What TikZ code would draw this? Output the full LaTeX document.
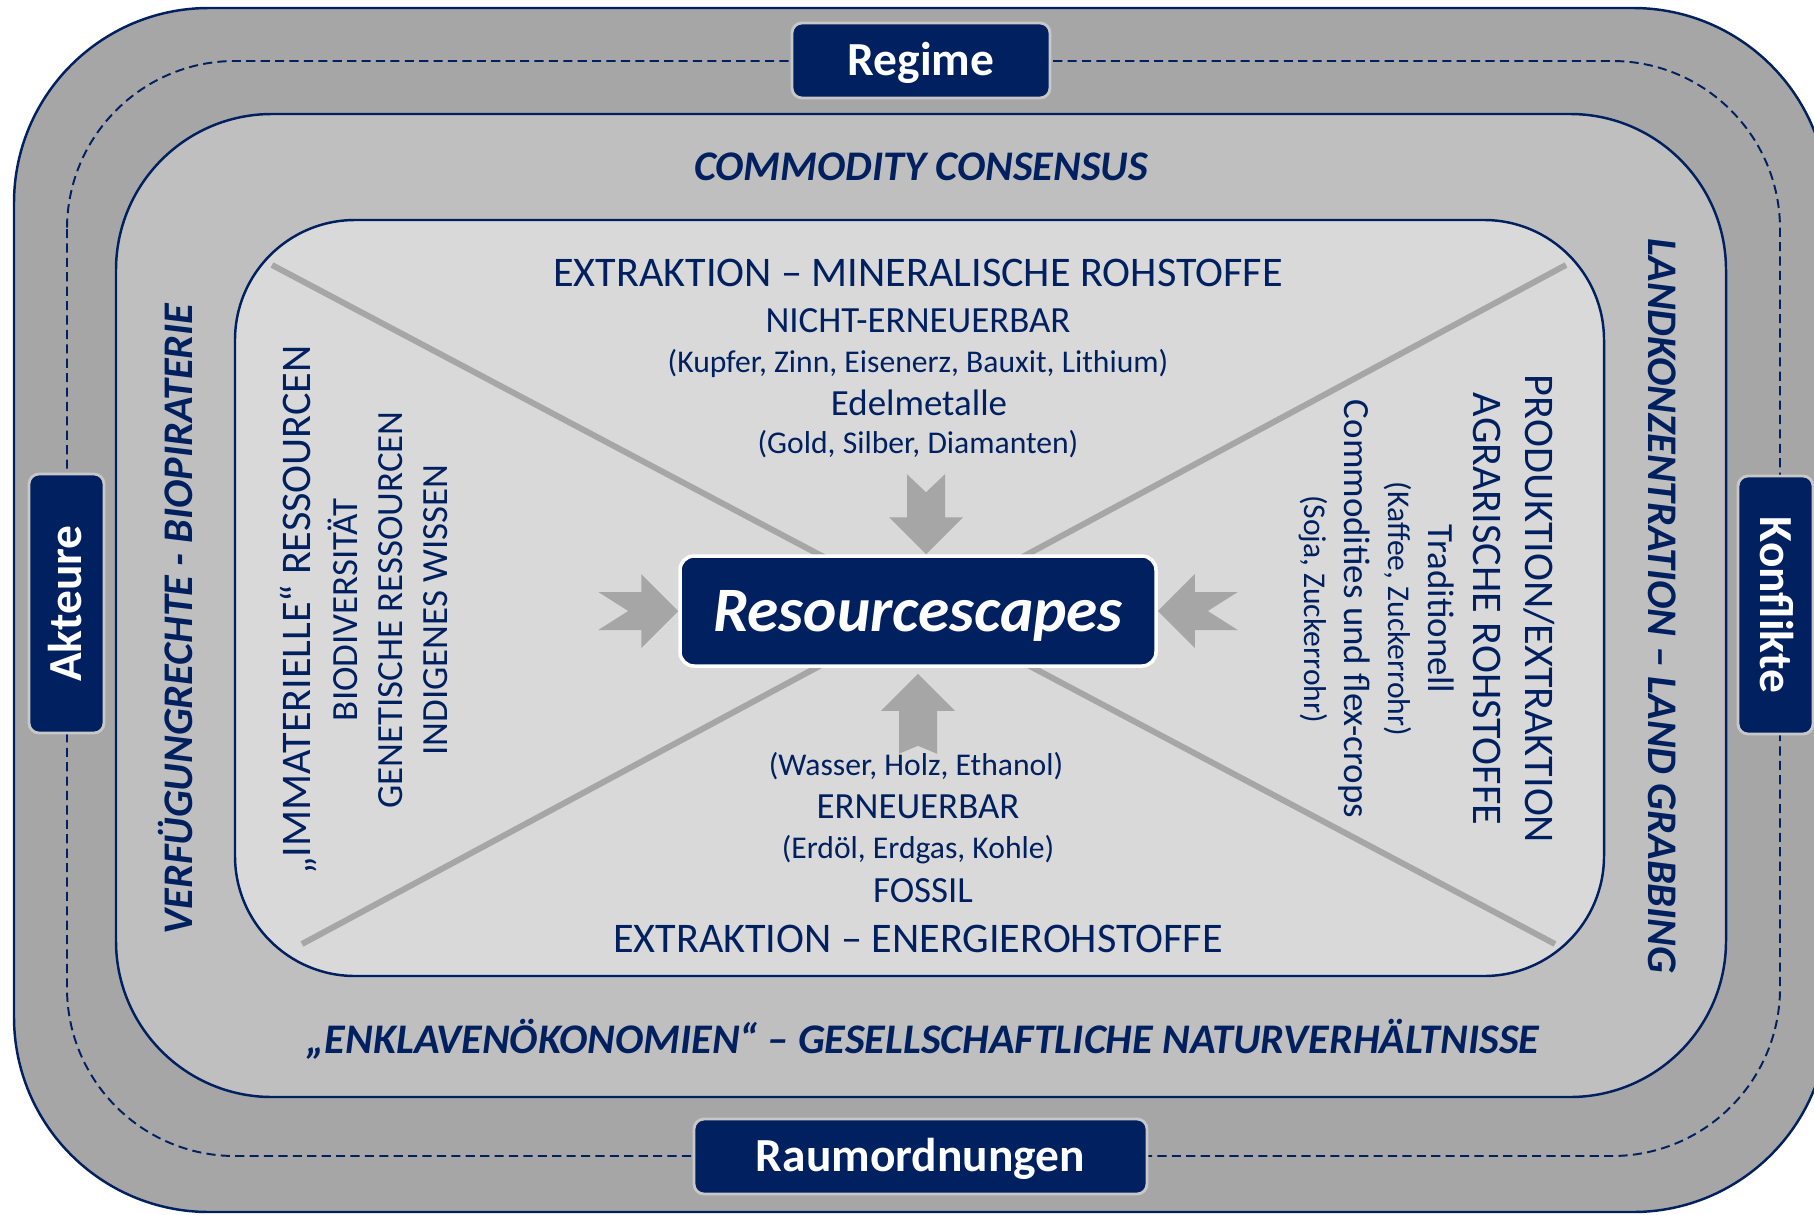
\documentclass[tikz,border=0pt]{standalone}
\usepackage{fontspec}
\setmainfont{Carlito}
\usepackage{xcolor}
\usetikzlibrary{calc,positioning}

\definecolor{rsnavy}{RGB}{0,32,96}
\definecolor{rsouter}{RGB}{166,166,166}
\definecolor{rsmiddle}{RGB}{191,191,191}
\definecolor{rsinner}{RGB}{217,217,217}
\definecolor{rsrim}{RGB}{200,200,200}

% notched block arrow: tip at #1, turned by #2, tail notch depth #3
\newcommand{\rsarrow}[3]{%
  \fill[rsouter, shift={#1}, rotate=#2]
    (0,0) -- (-37,37) -- (-37,19) -- (-80,19) -- (-80+#3,0) -- (-80,-19) -- (-37,-19) -- (-37,-37) -- cycle;}

\begin{document}
\begin{tikzpicture}[
    x=0.1mm, y=-0.1mm,
    frame/.style={draw=rsnavy, line width=0.7pt},
    crossline/.style={draw=rsouter, line width=1.7pt},
    tagbox/.style={rectangle, rounded corners=1mm, fill=rsnavy, draw=rsrim, line width=0.8pt,
        text=white, font=\fontsize{13.5}{16}\selectfont\bfseries, minimum height=7.5mm,
        text height=8.7pt, text depth=0pt, inner sep=0},
    corebox/.style={rectangle, rounded corners=1.4mm, fill=rsnavy, draw=white, line width=1pt,
        text=white, font=\fontsize{18}{21}\selectfont\bfseries\itshape,
        minimum width=47.6mm, minimum height=11mm, text height=11.6pt, text depth=0pt, inner sep=0},
    bandtxt/.style={text=rsnavy, font=\fontsize{12}{14}\selectfont\bfseries\itshape, anchor=base, inner sep=0},
    headtxt/.style={text=rsnavy, font=\fontsize{12}{14}\selectfont, anchor=base, inner sep=0},
    subtxt/.style={text=rsnavy, font=\fontsize{10.5}{12}\selectfont, anchor=base, inner sep=0},
    notetxt/.style={text=rsnavy, font=\fontsize{9}{11}\selectfont, anchor=base, inner sep=0}]

\clip (0,0) rectangle (1814,1214);
\fill[white] (0,0) rectangle (1814,1214);

% nested frames
\path[frame, fill=rsouter, rounded corners=19.5mm] (14,8) rectangle (1828,1212);
\path[draw=rsnavy, line width=0.55pt, dash pattern=on 2.6pt off 1.5pt, rounded corners=16.8mm] (67,61) rectangle (1780,1156);
\path[frame, fill=rsmiddle, rounded corners=15.6mm] (116,114) rectangle (1726,1097);
\path[frame, fill=rsinner, rounded corners=12mm] (235,220) rectangle (1604,976);

\coordinate (tl) at (272,265);
\coordinate (tr) at (1566,265);
\coordinate (bl) at (302,944);
\coordinate (br) at (1555,944);
\path[crossline] (tl) -- (br) (tr) -- (bl);

\node[corebox] (core) at (918,611) {Resourcescapes};
\rsarrow{(core.west)}{0}{30}
\rsarrow{(core.east)}{180}{30}
\rsarrow{([xshift=0.8mm]core.north)}{-90}{18}
\rsarrow{([yshift=-0.6mm]core.south)}{90}{8}

\node[tagbox, minimum width=25.8mm] (regime) at (921,60.5) {Regime};
\node[tagbox, minimum width=45.3mm] (raum) at (920.5,1156.5) {Raumordnungen};
\node[tagbox, minimum width=25.9mm, rotate=90] (akteure) at (66.5,603.5) {Akteure};
\node[tagbox, minimum width=25.8mm, rotate=-90] (konflikte) at (1775.5,605) {Konflikte};

\node[bandtxt] (consensus) at (921,180) {COMMODITY CONSENSUS};
\node[bandtxt] (enklave) at (923,1053) {„ENKLAVENÖKONOMIEN“ – GESELLSCHAFTLICHE NATURVERHÄLTNISSE};
\node[bandtxt, rotate=90] (rechte) at (192,619) {VERFÜGUNGRECHTE - BIOPIRATERIE};
\node[bandtxt, rotate=-90] (land) at (1648,606) {LANDKONZENTRATION – LAND GRABBING};

\node[headtxt] (mineral) at (918,286) {EXTRAKTION – MINERALISCHE ROHSTOFFE};
\node[subtxt] (nicht) at (918,332) {NICHT-ERNEUERBAR};
\node[notetxt] (kupfer) at (918,372) {(Kupfer, Zinn, Eisenerz, Bauxit, Lithium)};
\node[subtxt] (edel) at (919,415) {Edelmetalle};
\node[notetxt] (gold) at (918,453) {(Gold, Silber, Diamanten)};

\node[notetxt] (wasser) at (916,775) {(Wasser, Holz, Ethanol)};
\node[subtxt] (erneuer) at (918,818) {ERNEUERBAR};
\node[notetxt] (erdoel) at (918,858) {(Erdöl, Erdgas, Kohle)};
\node[subtxt] (fossil) at (923,902) {FOSSIL};
\node[headtxt] (energie) at (918,952) {EXTRAKTION – ENERGIEROHSTOFFE};

\node[headtxt, rotate=90] (immat) at (310,610) {„IMMATERIELLE“ RESSOURCEN};
\node[subtxt, rotate=90] (bio) at (357,610) {BIODIVERSITÄT};
\node[subtxt, rotate=90] (genet) at (402,610) {GENETISCHE RESSOURCEN};
\node[subtxt, rotate=90] (indig) at (447,610) {INDIGENES WISSEN};

\node[headtxt, rotate=-90] (prod) at (1525,609) {PRODUKTION/EXTRAKTION};
\node[headtxt, rotate=-90] (agrar) at (1473,609) {AGRARISCHE ROHSTOFFE};
\node[subtxt, rotate=-90] (trad) at (1428,609) {Traditionell};
\node[notetxt, rotate=-90] (kaffee) at (1388,609) {(Kaffee, Zuckerrohr)};
\node[subtxt, rotate=-90] (commod) at (1344,609) {Commodities und flex-crops};
\node[notetxt, rotate=-90] (soja) at (1304,609) {(Soja, Zuckerrohr)};

\end{tikzpicture}
\end{document}
